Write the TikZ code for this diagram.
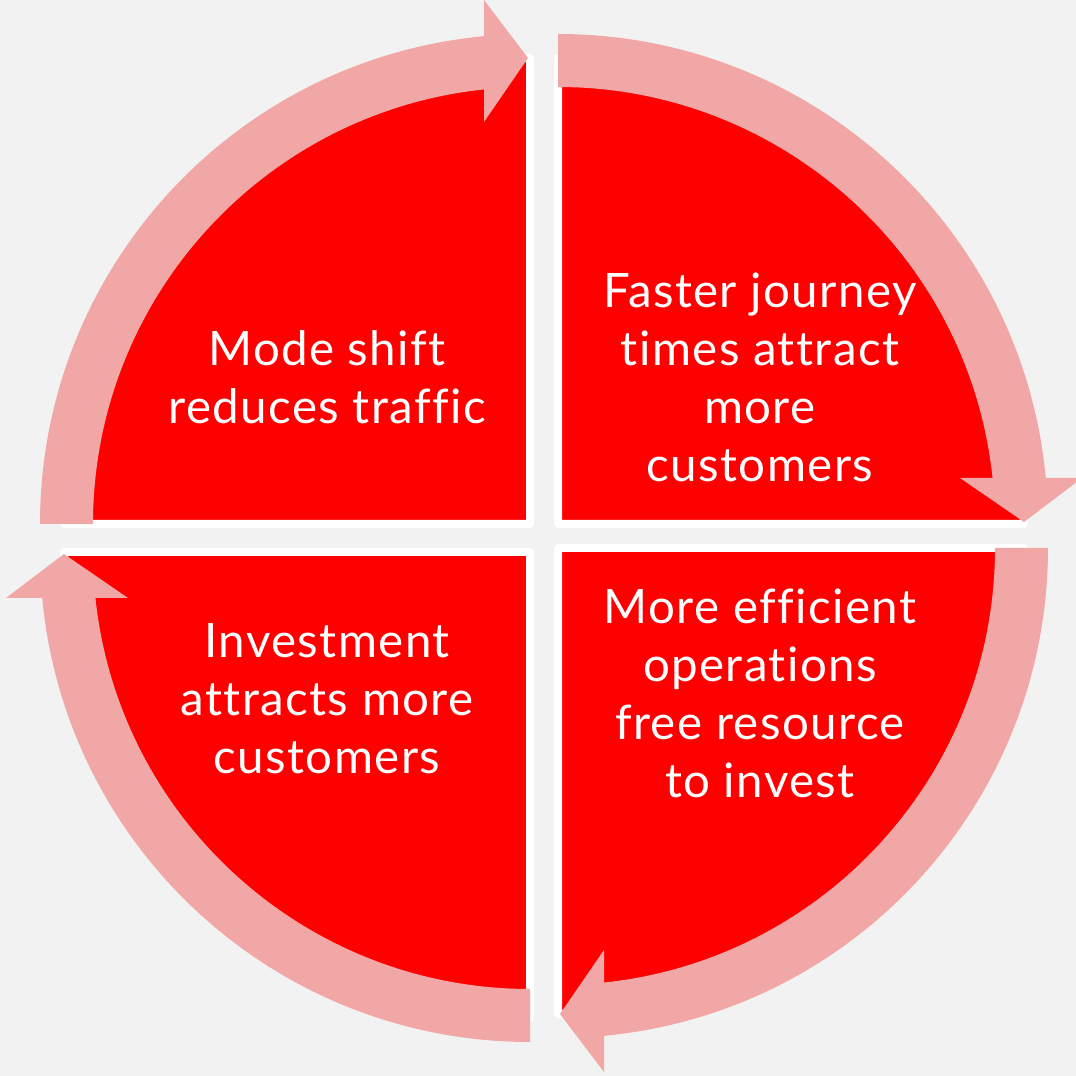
\documentclass[tikz,border=0pt]{standalone}
\usepackage{fontspec}
\setmainfont{Lato}[Ligatures={NoCommon,NoRequired},LetterSpace=3]
\definecolor{bggrey}{HTML}{F2F2F2}
\definecolor{cyclered}{HTML}{FF0000}
\definecolor{cyclepink}{HTML}{F1A7A5}

\begin{document}
\begin{tikzpicture}[
	quarter/.style={fill=cyclered,draw=white,line width=0.8mm,line join=round},
	band/.style={fill=cyclepink},
	label/.style={text=white,align=center,font=\fontsize{13.5}{16.5}\selectfont}
	]
	\fill[bggrey] (0,0) rectangle (10.76,10.76);
	\useasboundingbox (0,0) rectangle (10.76,10.76);
	
	%red quarters, each one turned a further 90 degrees clockwise
	\foreach \cx/\cy/\rot in {5.30/5.52/0, 5.58/5.52/-90, 5.58/5.28/-180, 5.30/5.24/-270}
	{
		\begin{scope}[shift={(\cx,\cy)},rotate=\rot]
			\filldraw[quarter] (0,0) -- (-4.66,0) arc (180:90:4.66) -- cycle;
		\end{scope}
	}
	
	%pink arrows round the outside
	\foreach \cx/\cy/\rot in {5.30/5.52/0, 5.58/5.52/-90, 5.58/5.28/-180, 5.30/5.24/-270}
	{
		\begin{scope}[shift={(\cx,\cy)},rotate=\rot]
			\fill[band] (180:4.37) arc (180:94.5:4.37) -- (94.5:4.90) arc (94.5:180:4.90) -- cycle;
			\fill[band] (-0.46,4.02) -- (-0.02,4.66) -- (-0.46,5.24) -- cycle;	%head
		\end{scope}
	}
	
	%labels
	\node[label] (shift) at (3.27,6.99) {Mode shift\\reduces traffic};
	\node[label] (faster) at (7.60,6.99) {Faster journey\\times attract\\more\\customers};
	\node[label] (efficient) at (7.60,3.83) {More efficient\\operations\\free resource\\to invest};
	\node[label] (invest) at (3.27,3.77) {Investment\\attracts more\\customers};
\end{tikzpicture}
\end{document}
